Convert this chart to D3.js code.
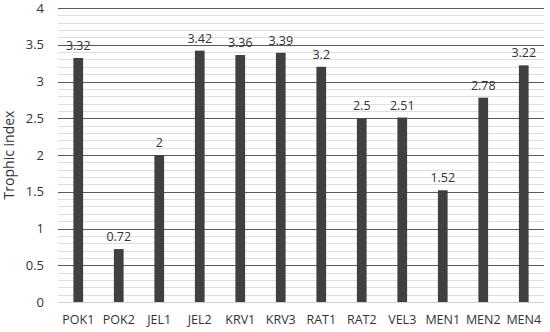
<!DOCTYPE html>
<html>
<head>
<meta charset="utf-8">
<script src="https://cdn.jsdelivr.net/npm/d3@7"></script>
<style>
  body { margin: 0; background: #fff; }
  text { font-family: "Open Sans", "Noto Sans", sans-serif; fill: #333; }
</style>
</head>
<body>
<div id="chart"></div>
<script>
var sites = ["POK1", "POK2", "JEL1", "JEL2", "KRV1", "KRV3", "RAT1", "RAT2", "VEL3", "MEN1", "MEN2", "MEN4"];
var trophic = [3.32, 0.72, 2, 3.42, 3.36, 3.39, 3.2, 2.5, 2.51, 1.52, 2.78, 3.22];
var yTicks = [0, 0.5, 1, 1.5, 2, 2.5, 3, 3.5, 4];

var width = 550;
var height = 332;
var margin = {top: 8, right: 6, bottom: 30, left: 58};

var svg = d3.select("#chart")
    .append("svg")
    .attr("width", width)
    .attr("height", height);

var x = d3.scaleBand()
    .domain(sites)
    .range([margin.left, width - margin.right])
    .paddingInner(0.76)
    .paddingOuter(0.38);

var y = d3.scaleLinear()
    .domain([0, 4])
    .range([height - margin.bottom, margin.top]);

// minor gridlines every 0.1
var minor = d3.range(0, 41).map(function(i) { return i / 10; })
    .filter(function(v) { return Math.round(v * 10) % 5 != 0; });

svg.append("g")
    .selectAll("line")
    .data(minor)
    .enter().append("line")
    .attr("x1", margin.left)
    .attr("x2", width - margin.right)
    .attr("y1", function(d) { return Math.round(y(d)) + 0.5; })
    .attr("y2", function(d) { return Math.round(y(d)) + 0.5; })
    .style("stroke", "#dedede")
    .style("stroke-width", 1);

// major gridlines
svg.append("g")
    .selectAll("line")
    .data(yTicks)
    .enter().append("line")
    .attr("x1", margin.left)
    .attr("x2", width - margin.right)
    .attr("y1", function(d) { return Math.round(y(d)) + 0.5; })
    .attr("y2", function(d) { return Math.round(y(d)) + 0.5; })
    .style("stroke", function(d) { return d == 0 ? "#d0d0d0" : "#595959"; })
    .style("stroke-width", 1);

// y axis labels
var yAxis = d3.axisLeft(y)
    .tickValues(yTicks)
    .tickSize(0)
    .tickPadding(14)
    .tickFormat(d3.format("~g"));

svg.append("g")
    .attr("transform", "translate(" + margin.left + ",0)")
    .call(yAxis)
    .call(function(g) { g.select(".domain").remove(); })
    .selectAll("text")
    .style("font-size", "13px")
    .style("fill", "#333");

// x axis labels
var xAxis = d3.axisBottom(x)
    .tickSize(0)
    .tickPadding(13);

svg.append("g")
    .attr("transform", "translate(0," + (height - margin.bottom) + ")")
    .call(xAxis)
    .call(function(g) { g.select(".domain").remove(); })
    .selectAll("text")
    .style("font-size", "12.5px")
    .style("fill", "#333");

// bars
svg.append("g")
    .selectAll("rect")
    .data(trophic)
    .enter().append("rect")
    .attr("x", function(d, i) { return x(sites[i]); })
    .attr("width", x.bandwidth())
    .attr("y", function(d) { return y(d); })
    .attr("height", function(d) { return y(0) - y(d); })
    .style("fill", "#404040");

// value labels
svg.append("g")
    .selectAll("text")
    .data(trophic)
    .enter().append("text")
    .attr("x", function(d, i) { return x(sites[i]) + x.bandwidth() / 2; })
    .attr("y", function(d) { return y(d) - 8; })
    .attr("text-anchor", "middle")
    .style("font-size", "12.5px")
    .text(function(d) { return d; });

// y axis title
svg.append("text")
    .attr("transform", "translate(14," + ((margin.top + height - margin.bottom) / 2) + ")rotate(-90)")
    .attr("text-anchor", "middle")
    .style("font-size", "14px")
    .text("Trophic index");
</script>
</body>
</html>
